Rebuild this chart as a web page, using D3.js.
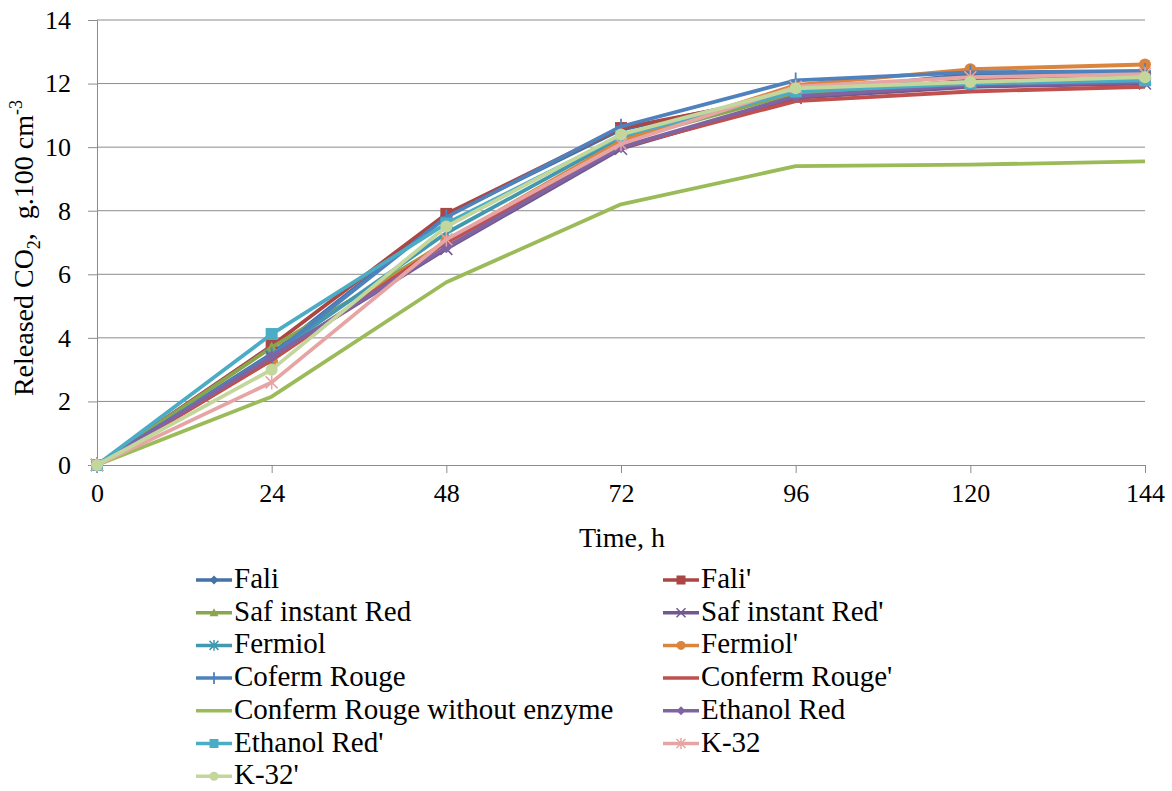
<!DOCTYPE html>
<html>
<head>
<meta charset="utf-8">
<script src="https://cdn.jsdelivr.net/npm/d3@7"></script>
<style>
  body { margin: 0; background: #fff; }
</style>
</head>
<body>
<div id="plot"></div>
<script>
// time points, h
const hours = [0, 24, 48, 72, 96, 120, 144];
const yTicks = [0, 2, 4, 6, 8, 10, 12, 14];

const seriesNames = ["Fali", "Fali'", "Saf instant Red", "Saf instant Red'", "Fermiol", "Fermiol'",
  "Coferm Rouge", "Conferm Rouge'", "Conferm Rouge without enzyme", "Ethanol Red", "Ethanol Red'", "K-32", "K-32'"];

// released CO2 values per series
const fali          = [0, 3.5, 7.85, 10.55, 11.7, 12.3, 12.35];
const faliP         = [0, 3.75, 7.9, 10.6, 11.65, 12.1, 12.2];
const safRed        = [0, 3.7, 7.0, 10.2, 11.7, 12.0, 12.1];
const safRedP       = [0, 3.4, 6.8, 9.95, 11.55, 11.9, 12.0];
const fermiol       = [0, 3.45, 7.3, 10.3, 11.8, 12.05, 12.15];
const fermiolP      = [0, 3.3, 7.05, 10.2, 11.95, 12.45, 12.6];
const cofermRouge   = [0, 3.45, 7.8, 10.65, 12.1, 12.35, 12.4];
const confermRougeP = [0, 3.3, 7.0, 10.0, 11.45, 11.75, 11.9];
const noEnzyme      = [0, 2.15, 5.75, 8.2, 9.4, 9.45, 9.55];
const ethanolRed    = [0, 3.4, 6.85, 10.0, 11.6, 11.95, 12.05];
const ethanolRedP   = [0, 4.12, 7.6, 10.35, 11.75, 12.0, 12.1];
const k32           = [0, 2.6, 7.1, 10.1, 11.9, 12.2, 12.3];
const k32P          = [0, 3.0, 7.5, 10.4, 11.85, 12.05, 12.2];

const seriesValues = [fali, faliP, safRed, safRedP, fermiol, fermiolP, cofermRouge,
  confermRougeP, noEnzyme, ethanolRed, ethanolRedP, k32, k32P];
const colors = ["#4572A7", "#AA4643", "#89A54E", "#71588F", "#4198AF", "#DB843D", "#4F81BD",
  "#C0504D", "#9BBB59", "#8064A2", "#4BACC6", "#E6A5A4", "#C3D69B"];
const markers = ["diamond", "square", "triangle", "x", "star", "circle", "plus",
  "none", "none", "diamond", "square", "star", "circle"];

const serif = '"Liberation Serif", "Times New Roman", serif';
const width = 1172, height = 791;
const margin = { top: 20, right: 27, bottom: 326, left: 97 };

const svg = d3.select("#plot").append("svg")
  .attr("width", width)
  .attr("height", height)
  .attr("font-family", serif);

const x = d3.scaleLinear().domain([0, 144]).range([margin.left, width - margin.right]);
const y = d3.scaleLinear().domain([0, 14]).range([height - margin.bottom, margin.top]);

// gridlines
svg.append("g")
  .selectAll("line")
  .data(yTicks.filter(d => d > 0))
  .enter().append("line")
  .attr("x1", x(0)).attr("x2", x(144))
  .attr("y1", d => y(d)).attr("y2", d => y(d))
  .attr("stroke", "#8c8c8c").attr("stroke-width", 1);

// axes
const xAxis = svg.append("g")
  .attr("transform", `translate(0,${y(0)})`)
  .call(d3.axisBottom(x).tickValues(hours).tickSize(8).tickPadding(11).tickFormat(d3.format("d")));
const yAxis = svg.append("g")
  .attr("transform", `translate(${x(0)},0)`)
  .call(d3.axisLeft(y).tickValues(yTicks).tickSize(9).tickPadding(17));
[xAxis, yAxis].forEach(g => {
  g.attr("font-family", serif).attr("font-size", 26);
  g.select(".domain").attr("stroke", "#8c8c8c");
  g.selectAll(".tick line").attr("stroke", "#8c8c8c");
  g.selectAll(".tick text").attr("fill", "#000");
});

// axis titles
svg.append("text")
  .attr("x", 622).attr("y", 547)
  .attr("text-anchor", "middle")
  .attr("font-size", 28)
  .text("Time, h");

const yTitle = svg.append("text")
  .attr("transform", "translate(33,248) rotate(-90)")
  .attr("text-anchor", "middle")
  .attr("font-size", 28);
yTitle.append("tspan").text("Released CO");
yTitle.append("tspan").attr("dy", 7).attr("font-size", 18).text("2");
yTitle.append("tspan").attr("dy", -7).text(",\u00a0\u00a0g.100 cm");
yTitle.append("tspan").attr("dy", -11).attr("font-size", 18).text("-3");

// marker drawing
function drawMarker(g, type, color, size) {
  const s = size;
  if (type === "diamond") {
    g.append("path").attr("d", `M0,${-s}L${s},0L0,${s}L${-s},0Z`).attr("fill", color);
  } else if (type === "square") {
    g.append("rect").attr("x", -s).attr("y", -s).attr("width", 2 * s).attr("height", 2 * s).attr("fill", color);
  } else if (type === "triangle") {
    g.append("path").attr("d", `M0,${-s}L${s},${s * 0.8}L${-s},${s * 0.8}Z`).attr("fill", color);
  } else if (type === "circle") {
    g.append("circle").attr("r", s).attr("fill", color);
  } else if (type === "x") {
    g.append("path").attr("d", `M${-s},${-s}L${s},${s}M${-s},${s}L${s},${-s}`)
      .attr("stroke", color).attr("stroke-width", 1.5);
  } else if (type === "star") {
    g.append("path").attr("d", `M${-s},${-s}L${s},${s}M${-s},${s}L${s},${-s}M0,${-s * 1.2}V${s * 1.2}`)
      .attr("stroke", color).attr("stroke-width", 1.5);
  } else if (type === "plus") {
    g.append("path").attr("d", `M0,${-s * 1.3}V${s * 1.3}M${-s},0H${s}`)
      .attr("stroke", color).attr("stroke-width", 1.8);
  }
}

const line = d3.line().x((d, i) => x(hours[i])).y(d => y(d));

seriesValues.forEach((vals, k) => {
  const g = svg.append("g");
  g.append("path")
    .datum(vals)
    .attr("d", line)
    .attr("fill", "none")
    .attr("stroke", colors[k])
    .attr("stroke-width", 3.8)
    .attr("stroke-linejoin", "round");
  vals.forEach((v, i) => {
    drawMarker(g.append("g").attr("transform", `translate(${x(hours[i])},${y(v)})`), markers[k], colors[k], 6);
  });
});

// legend, two columns
const legend = svg.append("g");
const legCols = [196, 663];
const legRow0 = 580, legStep = 32.7;
seriesNames.forEach((name, k) => {
  const lx = legCols[k % 2];
  const ly = legRow0 + Math.floor(k / 2) * legStep;
  const g = legend.append("g").attr("transform", `translate(${lx},${ly})`);
  g.append("line").attr("x1", 0).attr("x2", 36).attr("y1", 0).attr("y2", 0)
    .attr("stroke", colors[k]).attr("stroke-width", 3.5);
  drawMarker(g.append("g").attr("transform", "translate(18,0)"), markers[k], colors[k], 4.5);
  g.append("text").attr("x", 38).attr("y", 8)
    .attr("font-size", 29)
    .text(name);
});
</script>
</body>
</html>
